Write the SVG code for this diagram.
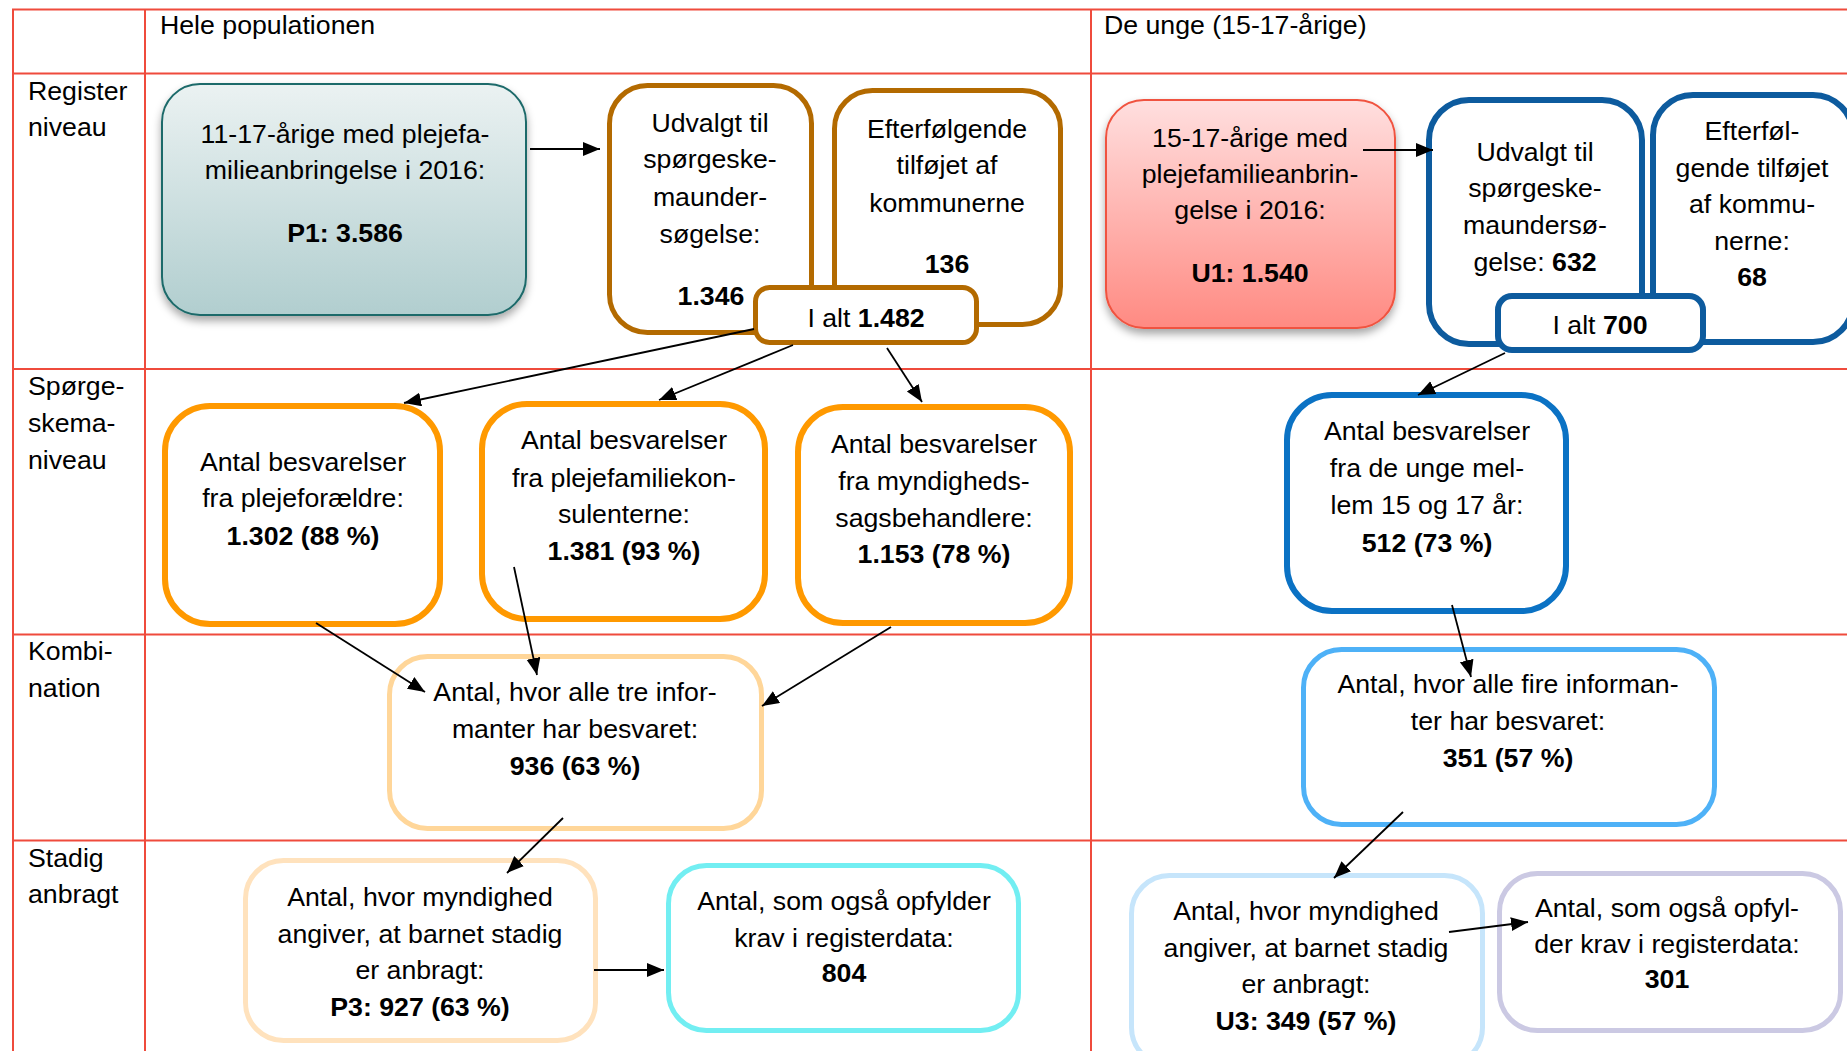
<svg xmlns="http://www.w3.org/2000/svg" width="1847" height="1051" viewBox="0 0 1847 1051">
<defs>
<style>
text{font-family:"Liberation Sans",Arial,sans-serif;font-size:26.7px;fill:#000}
.c{text-anchor:middle}
.b{font-weight:bold}
.grid line{stroke:#ef4b3c;stroke-width:2}
.box{fill:#fff}
.conn line{stroke:#000;stroke-width:1.8;marker-end:url(#ah)}
</style>
<linearGradient id="gTeal" x1="0" y1="0" x2="0" y2="1">
<stop offset="0" stop-color="#ebf2f2"/><stop offset="1" stop-color="#b1cecf"/>
</linearGradient>
<linearGradient id="gRed" x1="0" y1="0" x2="0" y2="1">
<stop offset="0" stop-color="#ffdfdf"/><stop offset="1" stop-color="#ff8a82"/>
</linearGradient>
<filter id="sh" x="-10%" y="-10%" width="120%" height="130%">
<feDropShadow dx="0" dy="5" stdDeviation="4" flood-color="#000" flood-opacity="0.35"/>
</filter>
<marker id="ah" markerUnits="userSpaceOnUse" markerWidth="18" markerHeight="15" refX="17" refY="7" orient="auto">
<path d="M0,0 L17,7 L0,14 z" fill="#000"/>
</marker>
</defs>

<g id="grid" class="grid">
<line x1="12" y1="9.5" x2="1847" y2="9.5"/>
<line x1="12" y1="73.5" x2="1847" y2="73.5"/>
<line x1="12" y1="369" x2="1847" y2="369"/>
<line x1="12" y1="634.5" x2="1847" y2="634.5"/>
<line x1="12" y1="840.5" x2="1847" y2="840.5"/>
<line x1="13" y1="9" x2="13" y2="1051"/>
<line x1="145" y1="9" x2="145" y2="1051"/>
<line x1="1091" y1="9" x2="1091" y2="1051"/>
</g>

<g id="labels">
<text x="160" y="34">Hele populationen</text>
<text x="1104" y="34">De unge (15-17-årige)</text>
<text x="28" y="100">Register</text>
<text x="28" y="136">niveau</text>
<text x="28" y="395">Spørge-</text>
<text x="28" y="432">skema-</text>
<text x="28" y="469">niveau</text>
<text x="28" y="660">Kombi-</text>
<text x="28" y="697">nation</text>
<text x="28" y="867">Stadig</text>
<text x="28" y="903">anbragt</text>
</g>

<g id="P1">
<rect x="162" y="84" width="364" height="231" rx="38" fill="url(#gTeal)" stroke="#1d6a6a" stroke-width="2" filter="url(#sh)"/>
<text class="c" x="345" y="143">11-17-årige med plejefa-</text>
<text class="c" x="345" y="179">milieanbringelse i 2016:</text>
<text class="c b" x="345" y="242">P1: 3.586</text>
</g>

<g id="udvalgt-hele">
<rect class="box" x="609.5" y="85.5" width="202" height="247" rx="38" stroke="#b36a00" stroke-width="5"/>
<text class="c" x="710" y="132">Udvalgt til</text>
<text class="c" x="710" y="168">spørgeske-</text>
<text class="c" x="710" y="206">maunder-</text>
<text class="c" x="710" y="243">søgelse:</text>
<text class="c b" x="711" y="305">1.346</text>
</g>

<g id="efterfoelgende-hele">
<rect class="box" x="834.5" y="90.5" width="226" height="234" rx="38" stroke="#b36a00" stroke-width="5"/>
<text class="c" x="947" y="138">Efterfølgende</text>
<text class="c" x="947" y="174">tilføjet af</text>
<text class="c" x="947" y="212">kommunerne</text>
<text class="c b" x="947" y="273">136</text>
</g>

<g id="ialt-hele">
<rect class="box" x="755.5" y="287.5" width="221" height="55" rx="14" stroke="#b36a00" stroke-width="5"/>
<text class="c" x="866" y="327">I alt <tspan class="b">1.482</tspan></text>
</g>

<g id="U1">
<rect x="1106" y="100" width="289" height="228" rx="38" fill="url(#gRed)" stroke="#f0533f" stroke-width="2" filter="url(#sh)"/>
<text class="c" x="1250" y="147">15-17-årige med</text>
<text class="c" x="1250" y="183">plejefamilieanbrin-</text>
<text class="c" x="1250" y="219">gelse i 2016:</text>
<text class="c b" x="1250" y="282">U1: 1.540</text>
</g>

<g id="udvalgt-unge">
<rect class="box" x="1429" y="100" width="213" height="244" rx="40" stroke="#0d5b9e" stroke-width="6"/>
<text class="c" x="1535" y="161">Udvalgt til</text>
<text class="c" x="1535" y="197">spørgeske-</text>
<text class="c" x="1535" y="234">maundersø-</text>
<text class="c" x="1535" y="271">gelse: <tspan class="b">632</tspan></text>
</g>

<g id="efterfoelgende-unge">
<rect class="box" x="1653" y="95" width="200" height="247" rx="40" stroke="#0d5b9e" stroke-width="6"/>
<text class="c" x="1752" y="140">Efterføl-</text>
<text class="c" x="1752" y="177">gende tilføjet</text>
<text class="c" x="1752" y="213">af kommu-</text>
<text class="c" x="1752" y="250">nerne:</text>
<text class="c b" x="1752" y="286">68</text>
</g>

<g id="ialt-unge">
<rect class="box" x="1498" y="296" width="205" height="54" rx="14" stroke="#0d5b9e" stroke-width="6"/>
<text class="c" x="1600" y="334">I alt <tspan class="b">700</tspan></text>
</g>

<g id="plejeforaeldre">
<rect class="box" x="165" y="406" width="275" height="218" rx="45" stroke="#ff9900" stroke-width="6"/>
<text class="c" x="303" y="471">Antal besvarelser</text>
<text class="c" x="303" y="507">fra plejeforældre:</text>
<text class="c b" x="303" y="545">1.302 (88 %)</text>
</g>

<g id="konsulenter">
<rect class="box" x="482" y="404" width="283" height="215" rx="45" stroke="#ff9900" stroke-width="6"/>
<text class="c" x="624" y="449">Antal besvarelser</text>
<text class="c" x="624" y="487">fra plejefamiliekon-</text>
<text class="c" x="624" y="523">sulenterne:</text>
<text class="c b" x="624" y="560">1.381 (93 %)</text>
</g>

<g id="myndighed">
<rect class="box" x="798" y="407" width="272" height="216" rx="45" stroke="#ff9900" stroke-width="6"/>
<text class="c" x="934" y="453">Antal besvarelser</text>
<text class="c" x="934" y="490">fra myndigheds-</text>
<text class="c" x="934" y="527">sagsbehandlere:</text>
<text class="c b" x="934" y="563">1.153 (78 %)</text>
</g>

<g id="unge-besvarelser">
<rect class="box" x="1287" y="395" width="279" height="216" rx="45" stroke="#0b72c4" stroke-width="6"/>
<text class="c" x="1427" y="440">Antal besvarelser</text>
<text class="c" x="1427" y="477">fra de unge mel-</text>
<text class="c" x="1427" y="514">lem 15 og 17 år:</text>
<text class="c b" x="1427" y="552">512 (73 %)</text>
</g>

<g id="kombi-hele">
<rect class="box" x="389.5" y="656.5" width="372" height="172" rx="38" stroke="#ffd699" stroke-width="5"/>
<text class="c" x="575" y="701">Antal, hvor alle tre infor-</text>
<text class="c" x="575" y="738">manter har besvaret:</text>
<text class="c b" x="575" y="775">936 (63 %)</text>
</g>

<g id="kombi-unge">
<rect class="box" x="1303.5" y="649.5" width="411" height="175" rx="38" stroke="#4eb1f7" stroke-width="5"/>
<text class="c" x="1508" y="693">Antal, hvor alle fire informan-</text>
<text class="c" x="1508" y="730">ter har besvaret:</text>
<text class="c b" x="1508" y="767">351 (57 %)</text>
</g>

<g id="P3">
<rect class="box" x="245.5" y="860.5" width="350" height="180" rx="38" stroke="#ffe2bd" stroke-width="5"/>
<text class="c" x="420" y="906">Antal, hvor myndighed</text>
<text class="c" x="420" y="943">angiver, at barnet stadig</text>
<text class="c" x="420" y="979">er anbragt:</text>
<text class="c b" x="420" y="1016">P3: 927 (63 %)</text>
</g>

<g id="register-hele">
<rect class="box" x="668.5" y="865.5" width="350" height="165" rx="38" stroke="#72eef2" stroke-width="5"/>
<text class="c" x="844" y="910">Antal, som også opfylder</text>
<text class="c" x="844" y="947">krav i registerdata:</text>
<text class="c b" x="844" y="982">804</text>
</g>

<g id="U3">
<rect class="box" x="1131.5" y="875.5" width="351" height="190" rx="38" stroke="#c6e5fb" stroke-width="5"/>
<text class="c" x="1306" y="920">Antal, hvor myndighed</text>
<text class="c" x="1306" y="957">angiver, at barnet stadig</text>
<text class="c" x="1306" y="993">er anbragt:</text>
<text class="c b" x="1306" y="1030">U3: 349 (57 %)</text>
</g>

<g id="register-unge">
<rect class="box" x="1499.5" y="873.5" width="341" height="157" rx="38" stroke="#cbc9e3" stroke-width="5"/>
<text class="c" x="1667" y="917">Antal, som også opfyl-</text>
<text class="c" x="1667" y="953">der krav i registerdata:</text>
<text class="c b" x="1667" y="988">301</text>
</g>

<g id="connectors" class="conn">
<line x1="530" y1="149" x2="600" y2="149"/>
<line x1="1363" y1="150" x2="1433" y2="150"/>
<line x1="754" y1="329" x2="404" y2="403"/>
<line x1="793" y1="345" x2="659" y2="400"/>
<line x1="887" y1="348" x2="922" y2="402"/>
<line x1="316" y1="623" x2="425" y2="692"/>
<line x1="514" y1="567" x2="537" y2="675"/>
<line x1="891" y1="627" x2="762" y2="706"/>
<line x1="563" y1="818" x2="507" y2="873"/>
<line x1="594" y1="970" x2="664" y2="970"/>
<line x1="1505" y1="353" x2="1418" y2="395"/>
<line x1="1452" y1="605" x2="1471" y2="677"/>
<line x1="1403" y1="812" x2="1334" y2="878"/>
<line x1="1449" y1="932" x2="1528" y2="922"/>
</g>
</svg>
